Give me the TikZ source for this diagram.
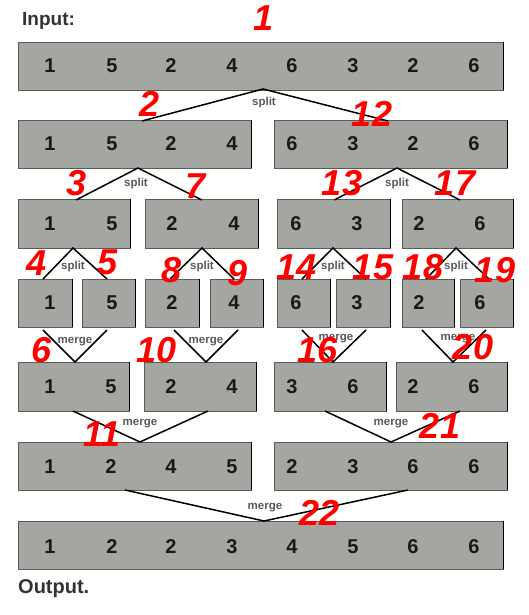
\documentclass[tikz,border=0pt]{standalone}
\usepackage{fontspec}
\setmainfont{Liberation Sans}
\usetikzlibrary{fit}
\definecolor{boxgray}{HTML}{A3A6A1}
\definecolor{edgegray}{HTML}{5A5C58}
\definecolor{redlab}{HTML}{FF0000}
\tikzset{
  box/.style={rectangle, fill=boxgray, draw=edgegray, line width=0.8pt, inner sep=0pt},
  digit/.style={font=\fontsize{20}{20}\selectfont\bfseries, text=black!90, inner sep=0pt},
  steplab/.style={font=\fontsize{36}{36}\selectfont\bfseries\itshape, text=redlab, inner sep=0pt},
  oplab/.style={font=\fontsize{11.5}{11.5}\selectfont\bfseries, text=black!65, inner sep=0pt},
  headlab/.style={font=\fontsize{19}{19}\selectfont\bfseries, text=black!80, inner sep=0pt, anchor=west},
  conn/.style={draw=black, line width=1.5pt, line join=miter},
}
\newcommand{\mybox}[5]{%
  \node[box, fit={(#2,#3) (#4,#5)}] (#1) {};
  \draw[black, line width=1.3pt] (#1.north east) -- (#1.south east);
}
\begin{document}
\begin{tikzpicture}[x=1pt,y=-1pt]
\useasboundingbox (0,0) rectangle (529,615);
\fill[white] (0,0) rectangle (529,615);

% headings
\node[headlab] (inp) at (22,21) {Input:};
\node[headlab, font=\fontsize{20}{20}\selectfont\bfseries] (outp) at (18,589) {Output.};

% row 1
\mybox{ra}{18}{42}{503}{90}
% row 2
\mybox{rba}{18}{120}{251}{168}
\mybox{rbb}{274}{120}{507}{168}
% row 3
\mybox{rca}{18}{199}{130}{248}
\mybox{rcb}{145}{199}{258}{248}
\mybox{rcc}{277}{199}{390}{248}
\mybox{rcd}{402}{199}{513}{248}
% row 4
\mybox{rda}{18}{279}{72}{327}
\mybox{rdb}{82}{279}{135}{327}
\mybox{rdc}{145}{279}{199}{327}
\mybox{rdd}{210}{279}{263}{327}
\mybox{rde}{277}{279}{330}{327}
\mybox{rdf}{336}{279}{390}{327}
\mybox{rdg}{402}{279}{454}{327}
\mybox{rdh}{460}{279}{513}{327}
% row 5
\mybox{rea}{18}{362}{129}{411}
\mybox{reb}{144}{362}{256}{411}
\mybox{rec}{274}{362}{386}{411}
\mybox{red}{396}{362}{507}{411}
% row 6
\mybox{rfa}{18}{442}{251}{490}
\mybox{rfb}{274}{442}{507}{490}
% row 7
\mybox{rg}{18}{521}{503}{569}

% digits
\foreach \x/\d [count=\i] in {50/1,112/5,171/2,232/4,292/6,353/3,413/2,474/6}
  \node[digit] (da\i) at (\x,66) {\d};
\foreach \x/\d [count=\i] in {50/1,112/5,171/2,232/4,292/6,353/3,413/2,474/6}
  \node[digit] (db\i) at (\x,144) {\d};
\foreach \x/\d [count=\i] in {50/1,112/5,172/2,234/4,296/6,357/3,419/2,480/6}
  \node[digit] (dc\i) at (\x,224) {\d};
\foreach \x/\d [count=\i] in {50/1,112/5,172/2,234/4,296/6,357/3,419/2,480/6}
  \node[digit] (dd\i) at (\x,303) {\d};
\foreach \x/\d [count=\i] in {50/1,111/5,171/2,232/4,292/3,353/6,413/2,474/6}
  \node[digit] (de\i) at (\x,387) {\d};
\foreach \x/\d [count=\i] in {50/1,111/2,171/4,232/5,292/2,353/3,413/6,474/6}
  \node[digit] (df\i) at (\x,467) {\d};
\foreach \x/\d [count=\i] in {50/1,112/2,171/2,232/3,292/4,353/5,413/6,474/6}
  \node[digit] (dg\i) at (\x,547) {\d};

% connectors: splits
\coordinate (pa) at (263,89);
\coordinate (pb1) at (142,121); \coordinate (pb2) at (388,121);
\draw[conn] (pb1) -- (pa) -- (pb2);
\coordinate (qa) at (138,168); \coordinate (qa1) at (76,200); \coordinate (qa2) at (202,200);
\draw[conn] (qa1) -- (qa) -- (qa2);
\coordinate (qb) at (397,168); \coordinate (qb1) at (334,200); \coordinate (qb2) at (460,200);
\draw[conn] (qb1) -- (qb) -- (qb2);
\coordinate (sa) at (73,248); \coordinate (sa1) at (43,279); \coordinate (sa2) at (107,279);
\draw[conn] (sa1) -- (sa) -- (sa2);
\coordinate (sb) at (202,248); \coordinate (sb1) at (170,279); \coordinate (sb2) at (234,279);
\draw[conn] (sb1) -- (sb) -- (sb2);
\coordinate (sc) at (333,248); \coordinate (sc1) at (302,279); \coordinate (sc2) at (366,279);
\draw[conn] (sc1) -- (sc) -- (sc2);
\coordinate (sd) at (456,248); \coordinate (sd1) at (426,279); \coordinate (sd2) at (489,279);
\draw[conn] (sd1) -- (sd) -- (sd2);
% merges
\coordinate (ma) at (75,362); \coordinate (ma1) at (43,330); \coordinate (ma2) at (107,330);
\draw[conn] (ma1) -- (ma) -- (ma2);
\coordinate (mb) at (206,362); \coordinate (mb1) at (174,330); \coordinate (mb2) at (238,330);
\draw[conn] (mb1) -- (mb) -- (mb2);
\coordinate (mc) at (333,362); \coordinate (mc1) at (302,330); \coordinate (mc2) at (366,330);
\draw[conn] (mc1) -- (mc) -- (mc2);
\coordinate (md) at (453,362); \coordinate (md1) at (422,330); \coordinate (md2) at (486,330);
\draw[conn] (md1) -- (md) -- (md2);
\coordinate (na) at (140,442); \coordinate (na1) at (73,411); \coordinate (na2) at (208,411);
\draw[conn] (na1) -- (na) -- (na2);
\coordinate (nb) at (391,442); \coordinate (nb1) at (325,411); \coordinate (nb2) at (460,411);
\draw[conn] (nb1) -- (nb) -- (nb2);
\coordinate (oa) at (264,521); \coordinate (oa1) at (125,490); \coordinate (oa2) at (408,490);
\draw[conn] (oa1) -- (oa) -- (oa2);

% op labels
\node[oplab] (ls1) at (264,103) {split};
\node[oplab] (ls2) at (136,184) {split};
\node[oplab] (ls3) at (397,184) {split};
\node[oplab] (ls4) at (73,267) {split};
\node[oplab] (ls5) at (202,267) {split};
\node[oplab] (ls6) at (333,267) {split};
\node[oplab] (ls7) at (456,267) {split};
\node[oplab] (lm1) at (75,342) {merge};
\node[oplab] (lm2) at (206,342) {merge};
\node[oplab] (lm3) at (336,339) {merge};
\node[oplab] (lm4) at (458,339) {merge};
\node[oplab] (lm5) at (140,424) {merge};
\node[oplab] (lm6) at (391,424) {merge};
\node[oplab] (lm7) at (265,508) {merge};

% red step numbers
\node[steplab] (n1) at (264,18) {1};
\node[steplab] (n2) at (150,104) {2};
\node[steplab] (n12) at (372,114) {12};
\node[steplab] (n3) at (77,183) {3};
\node[steplab] (n7) at (196,186) {7};
\node[steplab] (n13) at (342,183) {13};
\node[steplab] (n17) at (455,183) {17};
\node[steplab] (n4) at (37,263) {4};
\node[steplab] (n5) at (108,262) {5};
\node[steplab] (n8) at (172,270) {8};
\node[steplab] (n9) at (238,273) {9};
\node[steplab] (n14) at (297,267) {14};
\node[steplab] (n15) at (373,267) {15};
\node[steplab] (n18) at (423,267) {18};
\node[steplab] (n19) at (495,270) {19};
\node[steplab] (n6) at (42,350) {6};
\node[steplab] (n10) at (157,350) {10};
\node[steplab] (n16) at (318,350) {16};
\node[steplab] (n20) at (473,347) {20};
\node[steplab] (n11) at (102,434) {11};
\node[steplab] (n21) at (440,426) {21};
\node[steplab] (n22) at (320,513) {22};
\end{tikzpicture}
\end{document}
